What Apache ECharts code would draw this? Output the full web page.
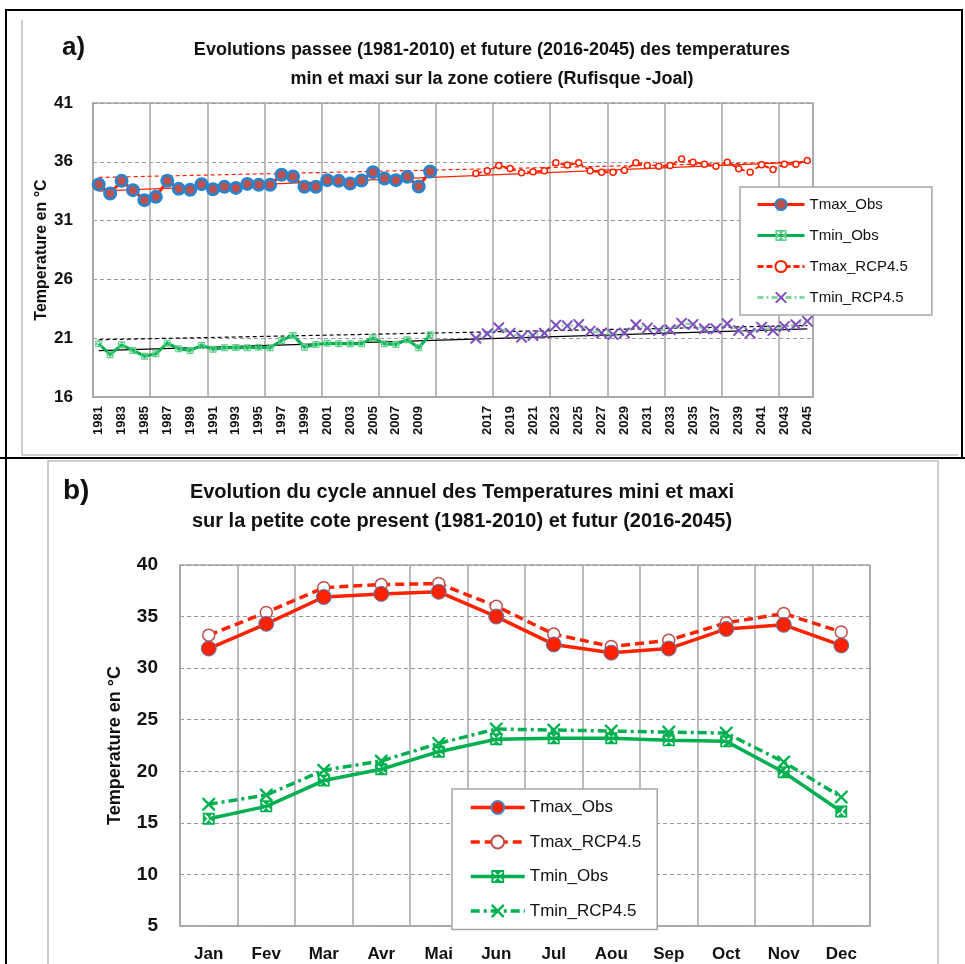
<!DOCTYPE html>
<html>
<head>
<meta charset="utf-8">
<script src="https://cdn.jsdelivr.net/npm/echarts@6/dist/echarts.min.js"></script>
<style>
  html, body { margin: 0; padding: 0; background: #fff; }
  #chart { width: 965px; height: 964px; }
</style>
</head>
<body>
<div id="chart"></div>
<script>
// --- panel a : yearly values ---
var pastYears = [1981, 1982, 1983, 1984, 1985, 1986, 1987, 1988, 1989, 1990,
  1991, 1992, 1993, 1994, 1995, 1996, 1997, 1998, 1999, 2000,
  2001, 2002, 2003, 2004, 2005, 2006, 2007, 2008, 2009, 2010];
var gapYears = ['', '', ''];
var futureYears = [2016, 2017, 2018, 2019, 2020, 2021, 2022, 2023, 2024, 2025,
  2026, 2027, 2028, 2029, 2030, 2031, 2032, 2033, 2034, 2035,
  2036, 2037, 2038, 2039, 2040, 2041, 2042, 2043, 2044, 2045];

var tmaxObs = [34.07, 33.3, 34.38, 33.59, 32.74, 33.02, 34.38, 33.7, 33.62, 34.1,
  33.67, 33.87, 33.78, 34.12, 34.04, 34.04, 34.9, 34.75, 33.87, 33.87,
  34.44, 34.38, 34.16, 34.41, 35.12, 34.58, 34.44, 34.72, 33.9, 35.18];
var tminObs = [20.53, 19.6, 20.44, 19.96, 19.47, 19.67, 20.58, 20.1, 19.96, 20.38,
  20.07, 20.19, 20.2, 20.19, 20.24, 20.19, 20.81, 21.23, 20.24, 20.47,
  20.58, 20.53, 20.53, 20.53, 21.04, 20.53, 20.47, 20.87, 20.19, 21.29];
var tmaxRcp = [35.01, 35.23, 35.69, 35.44, 35.06, 35.15, 35.23, 35.91, 35.72, 35.91,
  35.23, 35.12, 35.12, 35.29, 35.91, 35.69, 35.63, 35.69, 36.23, 35.97,
  35.8, 35.63, 35.97, 35.4, 35.12, 35.74, 35.35, 35.8, 35.8, 36.12];
var tminRcp = [21.0, 21.38, 21.89, 21.43, 21.09, 21.23, 21.43, 22.11, 22.05, 22.17,
  21.6, 21.45, 21.32, 21.45, 22.14, 21.86, 21.66, 21.72, 22.28, 22.17,
  21.8, 21.8, 22.23, 21.66, 21.43, 21.94, 21.66, 22.0, 22.14, 22.45];

// trend lines : value at first (1981) and last (2045) category
var trendTmax = [33.5, 36.0];
var trendTmaxRcp = [34.67, 36.0];
var trendTmin = [19.95, 21.8];
var trendTminRcp = [20.87, 22.08];

// --- panel b : annual cycle ---
var months = ['Jan', 'Fev', 'Mar', 'Avr', 'Mai', 'Jun', 'Jul', 'Aou', 'Sep', 'Oct', 'Nov', 'Dec'];
var cycTmaxObs = [31.9, 34.3, 36.9, 37.2, 37.4, 35.0, 32.3, 31.5, 31.9, 33.8, 34.2, 32.2];
var cycTmaxRcp = [33.2, 35.4, 37.8, 38.1, 38.2, 36.0, 33.3, 32.1, 32.7, 34.4, 35.3, 33.5];
var cycTminObs = [15.4, 16.6, 19.1, 20.2, 21.9, 23.1, 23.2, 23.2, 23.0, 22.9, 19.9, 16.1];
var cycTminRcp = [16.8, 17.7, 20.1, 21.0, 22.7, 24.1, 24.0, 23.9, 23.8, 23.7, 20.9, 17.5];

var chart = echarts.init(document.getElementById('chart'));

var RED = '#ff2200';
var GREEN = '#00b050';
var GRID_GREY = '#a6a6a6';
var FONT = 'Liberation Sans';
// thin "x" marker and green box with a white x
var X_SYM = 'path://M0,0L1.3,0L5,3.7L8.7,0L10,0L10,1.3L6.3,5L10,8.7L10,10L8.7,10L5,6.3L1.3,10L0,10L0,8.7L3.7,5L0,1.3Z';
var BOX_X_SYM = 'path://M-2,-2L12,-2L12,12L-2,12Z M0,0L0,1.5L3.5,5L0,8.5L0,10L1.5,10L5,6.5L8.5,10L10,10L10,8.5L6.5,5L10,1.5L10,0L8.5,0L5,3.5L1.5,0Z';

var topCats = pastYears.map(String).concat(gapYears, futureYears.map(String));
var nTop = topCats.length;
var padFuture = new Array(nTop - pastYears.length).fill('-');
var padPast = new Array(nTop - futureYears.length).fill('-');

function trend(name, vals, color, dashed) {
  return {
    name: name, type: 'line', xAxisIndex: 0, yAxisIndex: 0,
    data: [[0, vals[0]], [nTop - 1, vals[1]]],
    symbol: 'none', silent: true, z: 1,
    lineStyle: { color: color, width: 1.2, type: dashed ? [4, 3] : 'solid' }
  };
}

chart.setOption({
  animation: false,
  graphic: [
    { type: 'polyline', shape: { points: [[6, 964], [6, 10], [962, 10], [962, 458]] },
      style: { stroke: '#000', lineWidth: 2, fill: null } },
    { type: 'line', shape: { x1: 0, y1: 458, x2: 965, y2: 458 }, style: { stroke: '#000', lineWidth: 2 } },
    { type: 'polyline', shape: { points: [[22, 20], [22, 455], [958, 455]] },
      style: { stroke: '#bfbfbf', lineWidth: 1.5, fill: null } },
    { type: 'rect', shape: { x: 48, y: 461, width: 890, height: 520 },
      style: { stroke: '#bfbfbf', lineWidth: 1.5, fill: '#fff' }, z: -1 },
    { type: 'text', x: 62, y: 48, style: { text: 'a)', font: 'bold 26px ' + FONT, fill: '#111', textVerticalAlign: 'middle' } },
    { type: 'text', x: 492, y: 50, style: { text: 'Evolutions passee (1981-2010) et future (2016-2045) des temperatures',
      font: 'bold 18px ' + FONT, fill: '#111', textAlign: 'center', textVerticalAlign: 'middle' } },
    { type: 'text', x: 492, y: 79, style: { text: 'min et maxi sur la zone cotiere (Rufisque -Joal)',
      font: 'bold 18px ' + FONT, fill: '#111', textAlign: 'center', textVerticalAlign: 'middle' } },
    { type: 'text', x: 63, y: 491, style: { text: 'b)', font: 'bold 28px ' + FONT, fill: '#111', textVerticalAlign: 'middle' } },
    { type: 'text', x: 462, y: 492, style: { text: 'Evolution du cycle annuel des Temperatures mini et maxi',
      font: 'bold 20px ' + FONT, fill: '#111', textAlign: 'center', textVerticalAlign: 'middle' } },
    { type: 'text', x: 462, y: 521, style: { text: 'sur la petite cote present (1981-2010) et futur (2016-2045)',
      font: 'bold 20px ' + FONT, fill: '#111', textAlign: 'center', textVerticalAlign: 'middle' } }
  ],
  legend: [
    {
      data: ['Tmax_Obs', 'Tmin_Obs', 'Tmax_RCP4.5', 'Tmin_RCP4.5'],
      orient: 'vertical', left: 740, top: 187,
      padding: [10, 24, 10, 16], itemWidth: 47, itemHeight: 14, itemGap: 16,
      backgroundColor: '#fff', borderColor: GRID_GREY, borderWidth: 1.5,
      lineStyle: { width: 3 },
      textStyle: { fontFamily: FONT, fontSize: 15, color: '#111' }
    },
    {
      data: ['b:Tmax_Obs', 'b:Tmax_RCP4.5', 'b:Tmin_Obs', 'b:Tmin_RCP4.5'],
      formatter: function (n) { return n.replace('b:', ''); },
      orient: 'vertical', left: 452, top: 789,
      padding: [10, 16, 10, 17], itemWidth: 54, itemHeight: 16, itemGap: 17.5,
      backgroundColor: '#fff', borderColor: GRID_GREY, borderWidth: 1.5,
      lineStyle: { width: 3.5 },
      textStyle: { fontFamily: FONT, fontSize: 17, color: '#111' }
    }
  ],
  grid: [
    { left: 93, top: 103, width: 720, height: 294, show: true, borderColor: GRID_GREY, borderWidth: 1.5 },
    { left: 180, top: 565, width: 690, height: 361, show: true, borderColor: GRID_GREY, borderWidth: 1.5 }
  ],
  xAxis: [
    {
      gridIndex: 0, type: 'category', data: topCats, boundaryGap: true,
      axisLine: { lineStyle: { color: GRID_GREY, width: 1.5 } },
      axisTick: { show: false },
      axisLabel: { interval: 1, rotate: 90, margin: 9, fontFamily: FONT, fontWeight: 'bold', fontSize: 13, color: '#111' },
      splitLine: { show: true, interval: 4, lineStyle: { color: GRID_GREY, width: 1.5 } }
    },
    {
      gridIndex: 1, type: 'category', data: months, boundaryGap: true,
      axisLine: { lineStyle: { color: GRID_GREY, width: 1.5 } },
      axisTick: { show: false },
      axisLabel: { interval: 0, margin: 20, fontFamily: FONT, fontWeight: 'bold', fontSize: 17, color: '#111' },
      splitLine: { show: true, interval: 0, lineStyle: { color: GRID_GREY, width: 1.5 } }
    }
  ],
  yAxis: [
    {
      gridIndex: 0, type: 'value', min: 16, max: 41, interval: 5,
      name: 'Temperature en °C', nameLocation: 'middle', nameGap: 43, nameMoveOverlap: false,
      nameTextStyle: { fontFamily: FONT, fontWeight: 'bold', fontSize: 16, color: '#111' },
      axisLine: { show: true, lineStyle: { color: GRID_GREY, width: 1.5 } },
      axisTick: { show: false },
      axisLabel: { margin: 20, fontFamily: FONT, fontWeight: 'bold', fontSize: 17, color: '#111' },
      splitLine: { lineStyle: { color: '#999', type: [4, 3], width: 1 } }
    },
    {
      gridIndex: 1, type: 'value', min: 5, max: 40, interval: 5,
      name: 'Temperature en °C', nameLocation: 'middle', nameGap: 56, nameMoveOverlap: false,
      nameTextStyle: { fontFamily: FONT, fontWeight: 'bold', fontSize: 18, color: '#111' },
      axisLine: { show: true, lineStyle: { color: GRID_GREY, width: 1.5 } },
      axisTick: { show: false },
      axisLabel: { margin: 22, fontFamily: FONT, fontWeight: 'bold', fontSize: 19, color: '#111' },
      splitLine: { lineStyle: { color: '#999', type: [4, 3], width: 1 } }
    }
  ],
  series: [
    trend('trendTmax', trendTmax, RED, false),
    trend('trendTmaxRcp', trendTmaxRcp, RED, true),
    trend('trendTmin', trendTmin, '#000', false),
    trend('trendTminRcp', trendTminRcp, '#000', true),
    {
      name: 'Tmax_Obs', type: 'line', xAxisIndex: 0, yAxisIndex: 0,
      data: tmaxObs.concat(padFuture), z: 3, showAllSymbol: true,
      lineStyle: { color: RED, width: 3 },
      symbol: 'circle', symbolSize: 11,
      itemStyle: { color: '#c0504d', borderColor: '#2a84cc', borderWidth: 3 }
    },
    {
      name: 'Tmin_Obs', type: 'line', xAxisIndex: 0, yAxisIndex: 0,
      data: tminObs.concat(padFuture), z: 3, showAllSymbol: true,
      lineStyle: { color: GREEN, width: 3 },
      symbol: BOX_X_SYM, symbolSize: 7,
      itemStyle: { color: '#5ccf88', borderWidth: 0 }
    },
    {
      name: 'Tmax_RCP4.5', type: 'line', xAxisIndex: 0, yAxisIndex: 0,
      data: padPast.concat(tmaxRcp), z: 3, showAllSymbol: true,
      lineStyle: { color: RED, width: 2, type: [6, 3] },
      symbol: 'circle', symbolSize: 6,
      itemStyle: { color: '#fff', borderColor: RED, borderWidth: 1.5 }
    },
    {
      name: 'Tmin_RCP4.5', type: 'line', xAxisIndex: 0, yAxisIndex: 0,
      data: padPast.concat(tminRcp), z: 3, showAllSymbol: true,
      lineStyle: { color: '#7fd9a0', width: 2, type: [6, 3, 2, 3] },
      symbol: X_SYM, symbolSize: 11,
      itemStyle: { color: '#7f4fbf', borderWidth: 0 }
    },
    {
      name: 'b:Tmax_Obs', type: 'line', xAxisIndex: 1, yAxisIndex: 1,
      data: cycTmaxObs, z: 4,
      lineStyle: { color: RED, width: 3.5 },
      symbol: 'circle', symbolSize: 15,
      itemStyle: { color: RED, borderColor: '#4f81bd', borderWidth: 1 }
    },
    {
      name: 'b:Tmax_RCP4.5', type: 'line', xAxisIndex: 1, yAxisIndex: 1,
      data: cycTmaxRcp, z: 3,
      lineStyle: { color: RED, width: 3.5, type: [9, 5] },
      symbol: 'circle', symbolSize: 12,
      itemStyle: { color: '#fff', borderColor: '#c0504d', borderWidth: 1.5 }
    },
    {
      name: 'b:Tmin_Obs', type: 'line', xAxisIndex: 1, yAxisIndex: 1,
      data: cycTminObs, z: 4,
      lineStyle: { color: GREEN, width: 3.5 },
      symbol: BOX_X_SYM, symbolSize: 12,
      itemStyle: { color: GREEN, borderWidth: 0 }
    },
    {
      name: 'b:Tmin_RCP4.5', type: 'line', xAxisIndex: 1, yAxisIndex: 1,
      data: cycTminRcp, z: 3,
      lineStyle: { color: GREEN, width: 3.5, type: [9, 4, 3, 4] },
      symbol: X_SYM, symbolSize: 13,
      itemStyle: { color: GREEN, borderWidth: 0 }
    }
  ]
});
</script>
</body>
</html>
